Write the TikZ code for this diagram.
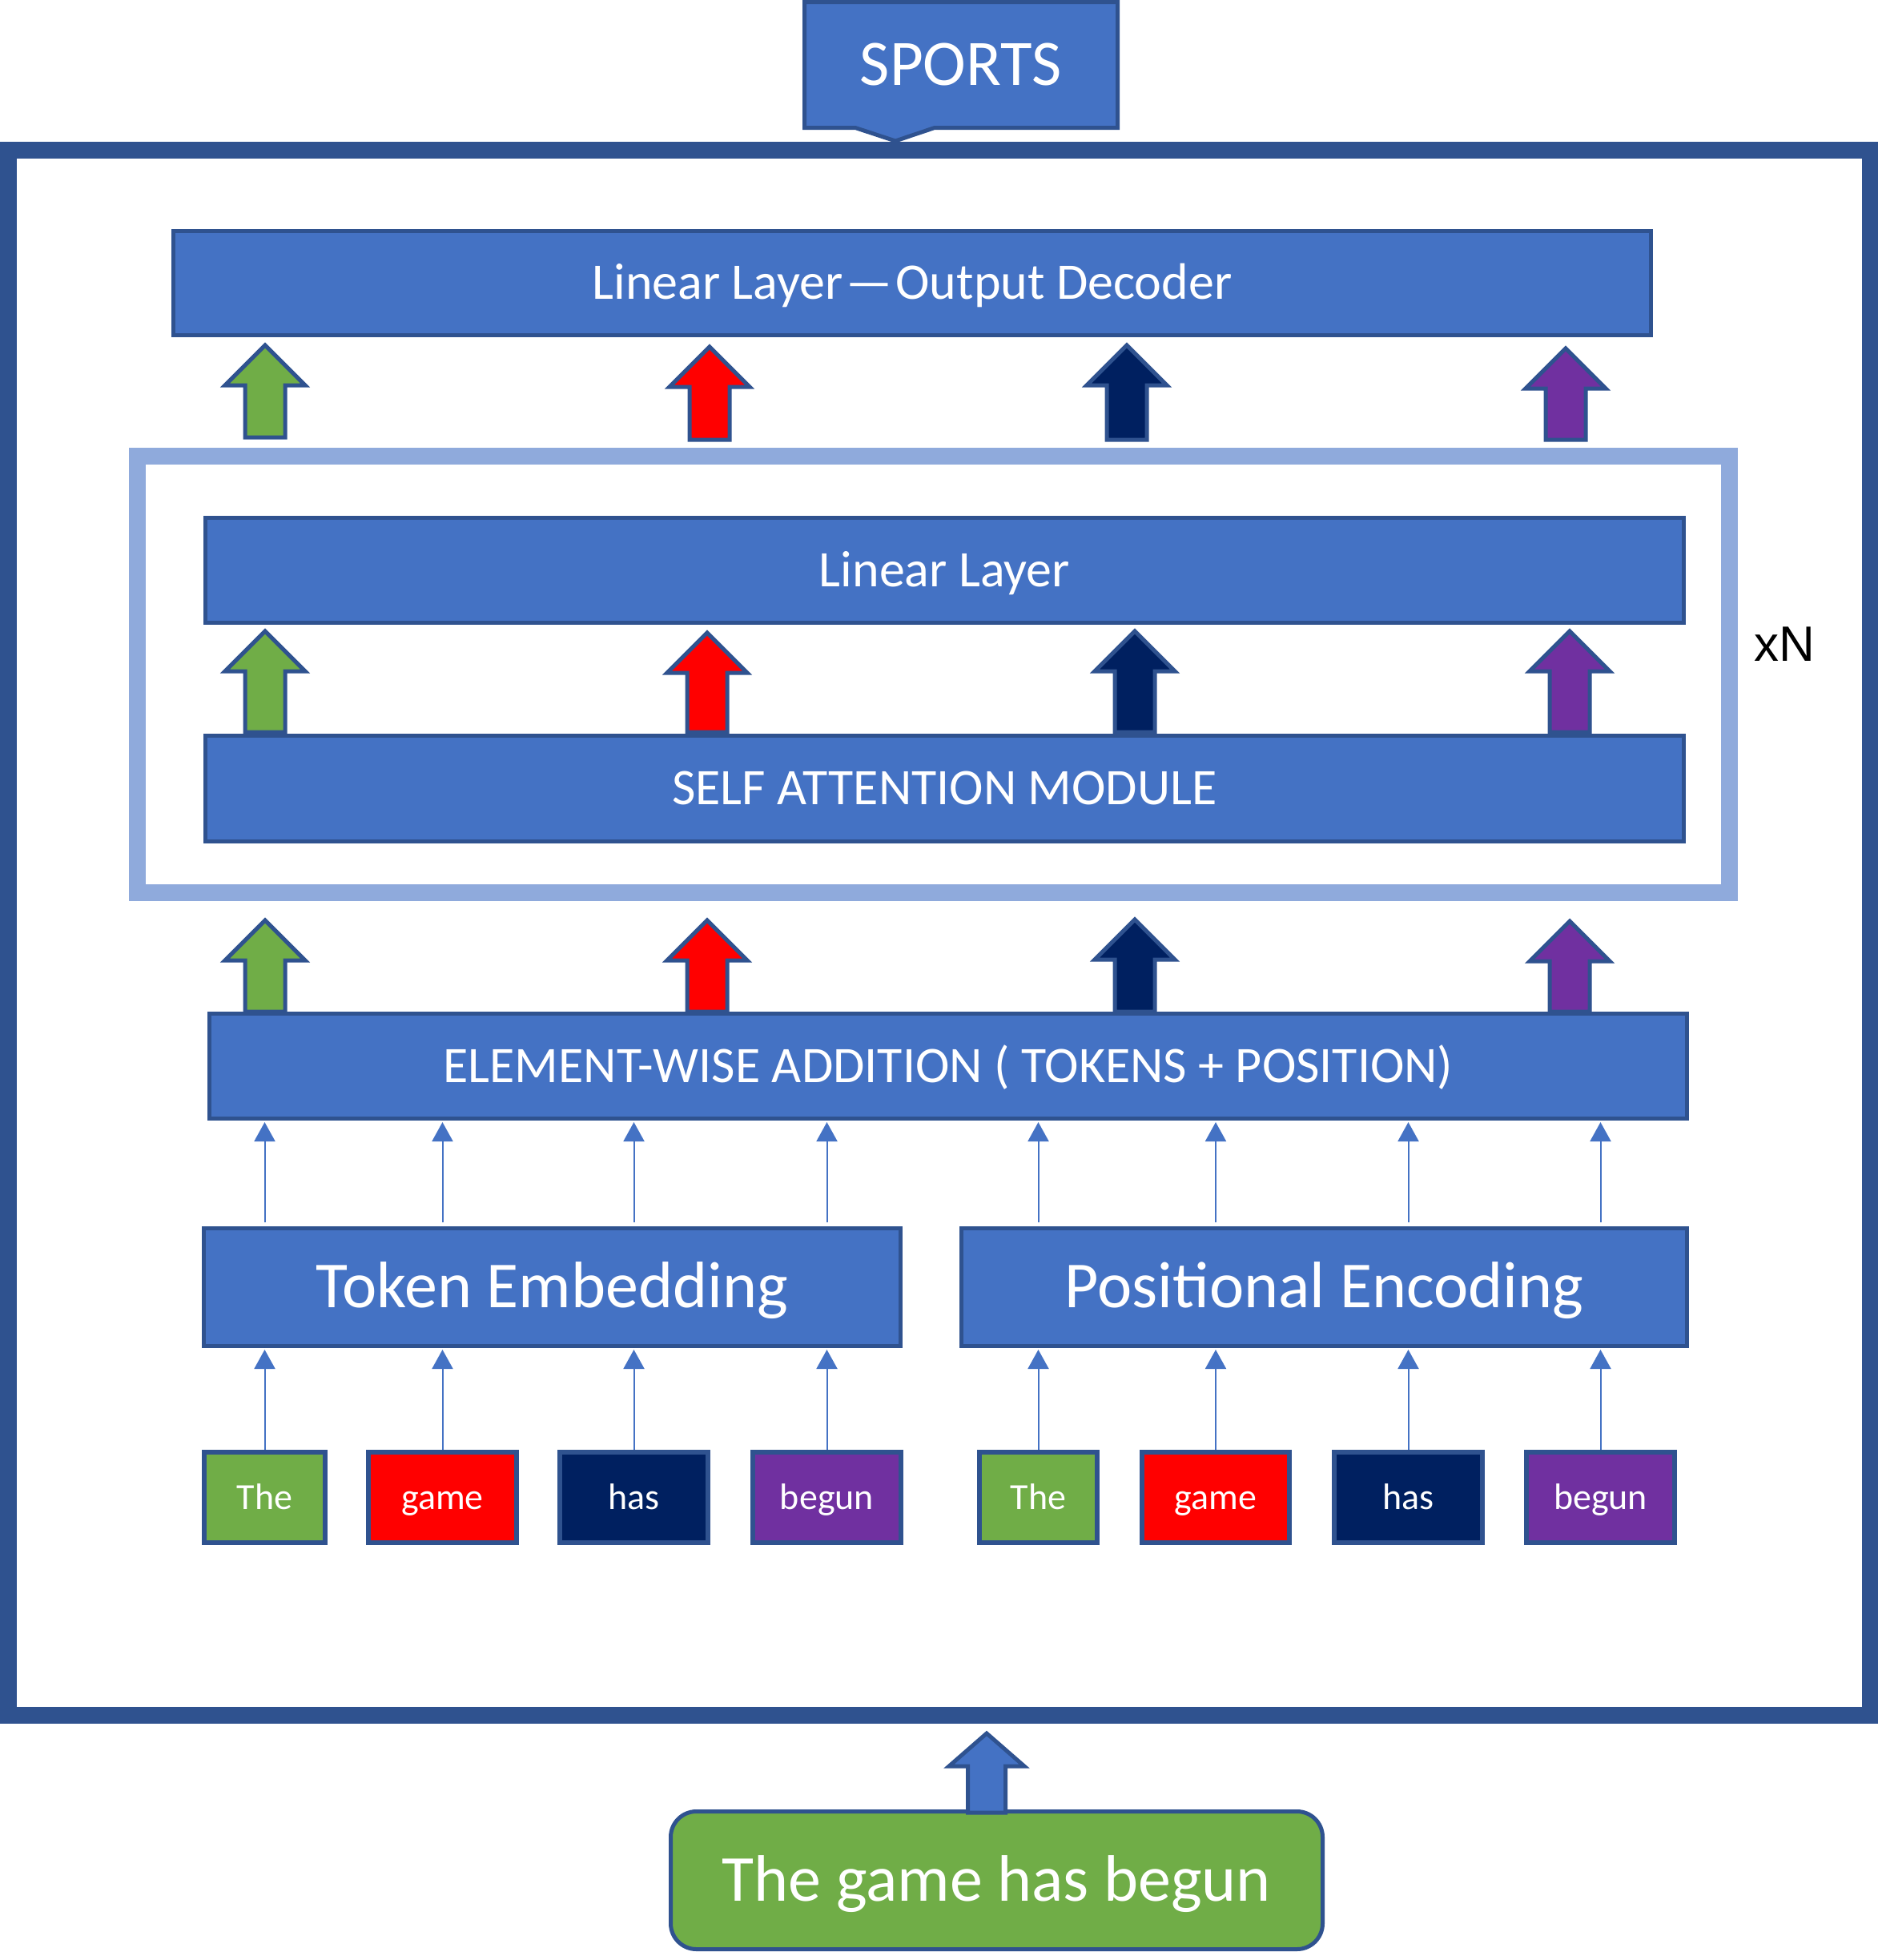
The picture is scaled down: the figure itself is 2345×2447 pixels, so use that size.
\documentclass[tikz,border=0pt]{standalone}
\usepackage{fontspec}
\setmainfont{Carlito}
\newfontfamily\arialfont{Liberation Sans}
\usetikzlibrary{arrows.meta,calc}

\definecolor{boxblue}{HTML}{4472C4}
\definecolor{edgeblue}{HTML}{2F528F}
\definecolor{paleblue}{HTML}{8FAADC}
\definecolor{tokgreen}{HTML}{70AD47}
\definecolor{tokred}{HTML}{FF0000}
\definecolor{toknavy}{HTML}{002060}
\definecolor{tokpurple}{HTML}{7030A0}

% wide up-arrow: fill, base point, tip point, shaft half width, head half width, head length
\newcommand\upblock[6]{%
  \draw[blockarrow,fill=#1] let \p1=#2, \p2=#3 in
    ({\x1-#4pt},\y1) -- ({\x1-#4pt},{\y2-#6pt}) -- ({\x1-#5pt},{\y2-#6pt}) -- (\x1,\y2)
    -- ({\x1+#5pt},{\y2-#6pt}) -- ({\x1+#4pt},{\y2-#6pt}) -- ({\x1+#4pt},\y1) -- cycle;}

\tikzset{
  layerbox/.style={draw=edgeblue, line width=5pt, fill=boxblue, text=white, inner sep=0pt,
    font=\fontsize{64pt}{70pt}\selectfont, text height=40.4pt, text depth=0pt},
  embbox/.style={layerbox, font=\fontsize{82pt}{90pt}\selectfont, text height=51.8pt, minimum height=147pt},
  tokbox/.style={draw=edgeblue, line width=6pt, text=white, inner sep=0pt, minimum height=113pt,
    font=\fontsize{46pt}{50pt}\selectfont, text height=29.1pt, text depth=0pt},
  blockarrow/.style={draw=edgeblue, line width=5pt, line join=miter},
  thinarrow/.style={draw=boxblue, line width=2pt, -{Triangle[width=26pt,length=24pt]}}
}

\begin{document}
\begin{tikzpicture}[x=1pt,y=-1pt]
\useasboundingbox (0,0) rectangle (2345,2447);

% outer frame and class label
\node[draw=edgeblue, line width=21pt, minimum width=2325pt, minimum height=1954pt, inner sep=0pt] (frame) at (1172.5,1164) {};
\draw[edgeblue, fill=boxblue, line width=5pt] (1004.5,2.5) -- (1395.5,2.5) -- (1395.5,159.5) -- (1167,159.5)
  -- (1118,176) -- (1068,159.5) -- (1004.5,159.5) -- cycle;
\node[text=white, inner sep=0pt, font=\fontsize{81pt}{88pt}\selectfont, text height=51.2pt, text depth=0pt] (sports) at (1200,81) {SPORTS};

% layers
\node[layerbox, minimum width=1845pt, minimum height=130pt] (dec) at (1139,353.5) {Linear Layer\kern4pt—\kern4pt Output Decoder};
\node[draw=paleblue, line width=21pt, minimum width=1988pt, minimum height=545pt, inner sep=0pt] (stack) at (1165.5,842) {};
\node[font=\arialfont\fontsize{62pt}{68pt}\selectfont, inner sep=0pt] (rep) at (2228,804) {xN};
\node[layerbox, minimum width=1846pt, minimum height=131pt] (lin) at (1179.5,712) {Linear Layer};
\node[layerbox, minimum width=1846pt, minimum height=132pt] (sam) at (1179.5,984.5) {SELF ATTENTION MODULE};
\node[layerbox, minimum width=1845pt, minimum height=131pt] (add) at (1184,1331) {ELEMENT-WISE ADDITION ( TOKENS + POSITION)};
\node[embbox, minimum width=870pt] (tok) at (689.5,1607) {Token Embedding};
\node[embbox, minimum width=906pt] (pos) at (1653.5,1607) {Positional Encoding};

% input tokens
\node[tokbox, fill=tokgreen,  minimum width=151pt] (a1) at (330.5,1869.5) {The};
\node[tokbox, fill=tokred,    minimum width=185pt] (a2) at (552.5,1869.5) {game};
\node[tokbox, fill=toknavy,   minimum width=185pt] (a3) at (791.5,1869.5) {has};
\node[tokbox, fill=tokpurple, minimum width=185pt] (a4) at (1032.5,1869.5) {begun};
\node[tokbox, fill=tokgreen,  minimum width=147pt] (b1) at (1296.5,1869.5) {The};
\node[tokbox, fill=tokred,    minimum width=184pt] (b2) at (1518,1869.5) {game};
\node[tokbox, fill=toknavy,   minimum width=185pt] (b3) at (1758.5,1869.5) {has};
\node[tokbox, fill=tokpurple, minimum width=185pt] (b4) at (1998.5,1869.5) {begun};

% sentence
\node[draw=edgeblue, line width=5pt, fill=tokgreen, rounded corners=32pt, minimum width=814pt, minimum height=172pt,
  text=white, inner sep=0pt, font=\fontsize{82pt}{90pt}\selectfont, text height=51.8pt, text depth=0pt] (inp) at (1244.5,2347.5) {The game has begun};

% thin arrows: tokens -> embeddings -> addition
\foreach \t/\e in {a1/tok,a2/tok,a3/tok,a4/tok,b1/pos,b2/pos,b3/pos,b4/pos}{
  \draw[thinarrow, shorten >=2pt] (\t.north) -- (\t.north |- \e.south);
  \draw[thinarrow, shorten >=2pt, shorten <=5pt] (\t.north |- \e.north) -- (\t.north |- add.south);
}

% wide arrows between layers
\upblock{tokgreen}{($(331,0 |- stack.north)+(0,-13)$)}{($(331,0 |- dec.south)+(0,10)$)}{25}{50}{50}
\upblock{tokred}{($(886,0 |- stack.north)+(0,-10)$)}{($(886,0 |- dec.south)+(0,12)$)}{25}{50}{50}
\upblock{toknavy}{($(1407,0 |- stack.north)+(0,-10)$)}{($(1407,0 |- dec.south)+(0,10)$)}{25}{50}{50}
\upblock{tokpurple}{($(1955,0 |- stack.north)+(0,-10)$)}{($(1955,0 |- dec.south)+(0,14)$)}{25}{50}{50}

\upblock{tokgreen}{($(331,0 |- sam.north)+(0,-2)$)}{($(331,0 |- lin.south)+(0,8)$)}{25}{50}{50}
\upblock{tokred}{($(883,0 |- sam.north)+(0,-2)$)}{($(883,0 |- lin.south)+(0,10)$)}{25}{50}{50}
\upblock{toknavy}{($(1417,0 |- sam.north)+(0,-2)$)}{($(1417,0 |- lin.south)+(0,8)$)}{25}{50}{50}
\upblock{tokpurple}{($(1960,0 |- sam.north)+(0,-2)$)}{($(1960,0 |- lin.south)+(0,8)$)}{25}{50}{50}

\upblock{tokgreen}{(331,0 |- add.north)}{($(331,0 |- stack.south)+(0,24)$)}{25}{50}{50}
\upblock{tokred}{(883,0 |- add.north)}{($(883,0 |- stack.south)+(0,24)$)}{25}{50}{50}
\upblock{toknavy}{(1417,0 |- add.north)}{($(1417,0 |- stack.south)+(0,23)$)}{25}{50}{50}
\upblock{tokpurple}{(1960,0 |- add.north)}{($(1960,0 |- stack.south)+(0,25)$)}{25}{50}{50}

% sentence enters the model
\upblock{boxblue}{($(1232,0 |- inp.north)+(0,4)$)}{($(1232,0 |- frame.south)+(0,12.5)$)}{23.5}{47}{41}
\end{tikzpicture}
\end{document}
